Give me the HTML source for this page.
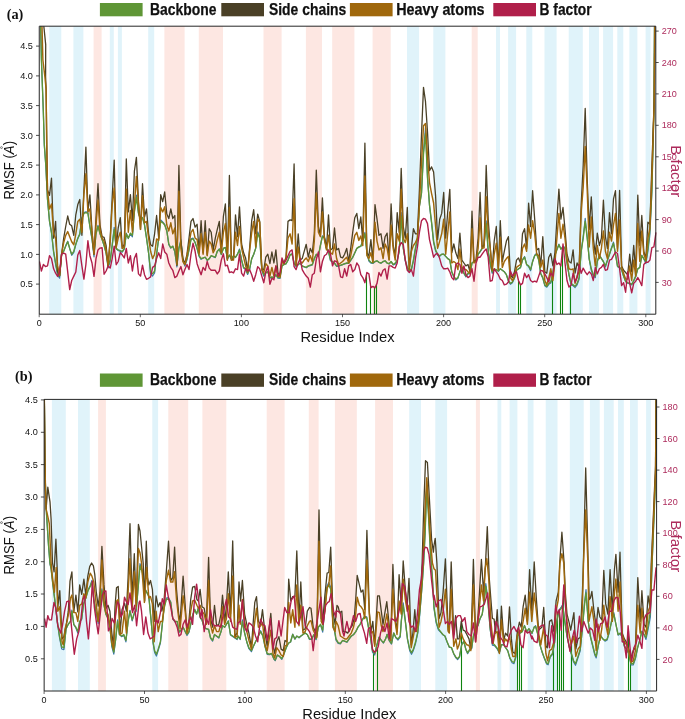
<!DOCTYPE html>
<html><head><meta charset="utf-8"><title>RMSF</title>
<style>html,body{margin:0;padding:0;background:#fff}svg{display:block;will-change:transform;font-family:"Liberation Sans",sans-serif}</style></head>
<body><svg width="685" height="719" viewBox="0 0 685 719">
<rect width="685" height="719" fill="#fff"/>
<rect x="49.2" y="26.2" width="12.1" height="288.0" fill="#e0f3fa"/>
<rect x="73.4" y="26.2" width="10.0" height="288.0" fill="#e0f3fa"/>
<rect x="93.6" y="26.2" width="8.0" height="288.0" fill="#fde7e2"/>
<rect x="109.8" y="26.2" width="4.0" height="288.0" fill="#e0f3fa"/>
<rect x="117.9" y="26.2" width="4.0" height="288.0" fill="#e0f3fa"/>
<rect x="148.2" y="26.2" width="6.0" height="288.0" fill="#e0f3fa"/>
<rect x="164.4" y="26.2" width="20.2" height="288.0" fill="#fde7e2"/>
<rect x="198.8" y="26.2" width="24.2" height="288.0" fill="#fde7e2"/>
<rect x="263.5" y="26.2" width="18.1" height="288.0" fill="#fde7e2"/>
<rect x="305.9" y="26.2" width="16.1" height="288.0" fill="#fde7e2"/>
<rect x="332.2" y="26.2" width="22.2" height="288.0" fill="#fde7e2"/>
<rect x="372.6" y="26.2" width="18.1" height="288.0" fill="#fde7e2"/>
<rect x="407.0" y="26.2" width="12.1" height="288.0" fill="#e0f3fa"/>
<rect x="433.3" y="26.2" width="12.1" height="288.0" fill="#e0f3fa"/>
<rect x="471.7" y="26.2" width="6.0" height="288.0" fill="#fde7e2"/>
<rect x="496.0" y="26.2" width="4.0" height="288.0" fill="#e0f3fa"/>
<rect x="508.1" y="26.2" width="8.0" height="288.0" fill="#e0f3fa"/>
<rect x="526.3" y="26.2" width="6.0" height="288.0" fill="#e0f3fa"/>
<rect x="544.5" y="26.2" width="12.1" height="288.0" fill="#e0f3fa"/>
<rect x="568.7" y="26.2" width="14.1" height="288.0" fill="#e0f3fa"/>
<rect x="589.0" y="26.2" width="10.0" height="288.0" fill="#e0f3fa"/>
<rect x="603.1" y="26.2" width="10.0" height="288.0" fill="#e0f3fa"/>
<rect x="617.3" y="26.2" width="6.0" height="288.0" fill="#e0f3fa"/>
<rect x="629.4" y="26.2" width="8.0" height="288.0" fill="#e0f3fa"/>
<rect x="645.6" y="26.2" width="5.0" height="288.0" fill="#e0f3fa"/>
<clipPath id="ca"><rect x="39.25" y="26.2" width="617.5" height="288.0"/></clipPath>
<g clip-path="url(#ca)" fill="none" stroke-linejoin="round">
<line x1="366.5" y1="274.4" x2="366.5" y2="314.2" stroke="#0f830f" stroke-width="1.1"/>
<line x1="370.5" y1="284.9" x2="370.5" y2="314.2" stroke="#0f830f" stroke-width="1.1"/>
<line x1="374.5" y1="287.5" x2="374.5" y2="314.2" stroke="#0f830f" stroke-width="1.1"/>
<line x1="376.5" y1="284.5" x2="376.5" y2="314.2" stroke="#0f830f" stroke-width="1.1"/>
<line x1="518.5" y1="280.5" x2="518.5" y2="314.2" stroke="#0f830f" stroke-width="1.1"/>
<line x1="520.5" y1="284.9" x2="520.5" y2="314.2" stroke="#0f830f" stroke-width="1.1"/>
<line x1="552.5" y1="275.6" x2="552.5" y2="314.2" stroke="#0f830f" stroke-width="1.1"/>
<line x1="560.5" y1="265.3" x2="560.5" y2="314.2" stroke="#0f830f" stroke-width="1.1"/>
<line x1="562.5" y1="249.1" x2="562.5" y2="314.2" stroke="#0f830f" stroke-width="1.1"/>
<line x1="570.5" y1="285.5" x2="570.5" y2="314.2" stroke="#0f830f" stroke-width="1.1"/>
<path d="M40.0,-32.3 L40.6,22.1 L41.4,58.0 L43.3,111.6 L44.3,145.5 L45.8,165.6 L47.5,200.0 L49.5,221.9 L51.5,232.9 L53.6,252.2 L55.6,264.3 L57.6,275.2 L59.6,278.2 L61.6,254.0 L63.7,251.0 L65.7,245.6 L67.7,241.2 L69.7,248.6 L71.7,255.3 L73.8,252.3 L75.8,244.5 L77.8,238.6 L79.8,234.4 L81.9,218.0 L83.9,212.6 L85.9,211.8 L87.9,212.3 L89.9,226.6 L92.0,239.4 L94.0,256.8 L96.0,233.7 L98.0,225.3 L100.0,233.2 L102.1,239.5 L104.1,245.6 L106.1,253.4 L108.1,268.0 L110.2,261.4 L112.2,245.1 L114.2,227.4 L116.2,248.7 L118.2,250.5 L120.3,251.4 L122.3,252.1 L124.3,249.1 L126.3,233.1 L128.3,238.6 L130.4,233.8 L132.4,236.8 L134.4,211.1 L136.4,195.2 L138.5,213.1 L140.5,219.6 L142.5,217.3 L144.5,224.3 L146.5,237.9 L148.6,253.3 L150.6,273.8 L152.6,276.0 L154.6,273.0 L156.6,254.8 L158.7,237.8 L160.7,219.8 L162.7,221.8 L164.7,224.4 L166.8,230.7 L168.8,244.8 L170.8,248.2 L172.8,246.2 L174.8,251.8 L176.9,266.9 L178.9,248.0 L180.9,239.7 L182.9,260.8 L184.9,266.1 L187.0,259.7 L189.0,250.0 L191.0,238.8 L193.0,238.1 L195.1,242.2 L197.1,248.5 L199.1,256.4 L201.1,259.3 L203.1,258.2 L205.2,257.3 L207.2,260.5 L209.2,258.9 L211.2,255.8 L213.2,256.7 L215.3,257.6 L217.3,251.3 L219.3,249.0 L221.3,254.6 L223.4,248.2 L225.4,247.3 L227.4,259.3 L229.4,255.2 L231.4,259.2 L233.5,255.9 L235.5,257.5 L237.5,254.1 L239.5,249.0 L241.6,260.1 L243.6,268.0 L245.6,269.6 L247.6,274.4 L249.6,269.7 L251.7,258.9 L253.7,254.5 L255.7,248.1 L257.7,231.8 L259.7,236.4 L261.8,270.2 L263.8,276.2 L265.8,273.1 L267.8,271.7 L269.9,278.1 L271.9,277.2 L273.9,277.9 L275.9,274.8 L277.9,278.2 L280.0,278.4 L282.0,265.8 L284.0,264.4 L286.0,264.0 L288.0,260.2 L290.1,254.5 L292.1,253.7 L294.1,263.4 L296.1,266.6 L298.2,264.8 L300.2,263.0 L302.2,266.1 L304.2,267.0 L306.2,267.8 L308.3,266.2 L310.3,265.6 L312.3,265.0 L314.3,258.8 L316.3,254.4 L318.4,256.5 L320.4,245.4 L322.4,235.8 L324.4,237.3 L326.5,248.5 L328.5,251.5 L330.5,260.8 L332.5,262.0 L334.5,263.3 L336.6,266.4 L338.6,266.3 L340.6,265.5 L342.6,264.7 L344.6,263.9 L346.7,263.3 L348.7,263.5 L350.7,260.5 L352.7,257.5 L354.8,252.9 L356.8,248.4 L358.8,247.2 L360.8,246.4 L362.8,240.6 L364.9,232.3 L366.9,253.1 L368.9,261.0 L370.9,263.1 L372.9,263.5 L375.0,261.7 L377.0,260.9 L379.0,262.5 L381.0,263.3 L383.1,261.7 L385.1,260.8 L387.1,263.2 L389.1,264.0 L391.1,261.6 L393.2,265.0 L395.2,264.1 L397.2,261.1 L399.2,251.4 L401.2,212.5 L403.3,248.0 L405.3,260.9 L407.3,268.8 L409.3,271.6 L411.4,270.1 L413.4,261.2 L415.4,249.4 L417.4,239.9 L419.4,206.4 L421.5,193.1 L423.5,150.9 L425.5,127.9 L427.5,177.0 L429.5,205.6 L431.6,223.4 L433.6,242.6 L435.6,251.1 L437.6,255.2 L439.7,256.3 L441.7,254.4 L443.7,254.2 L445.7,256.4 L447.7,258.5 L449.8,259.7 L451.8,272.3 L453.8,276.9 L455.8,280.0 L457.9,278.2 L459.9,271.7 L461.9,266.8 L463.9,273.4 L465.9,276.9 L468.0,273.8 L470.0,273.9 L472.0,262.9 L474.0,261.6 L476.0,261.2 L478.1,254.4 L480.1,251.8 L482.1,248.7 L484.1,243.8 L486.2,220.8 L488.2,251.3 L490.2,264.0 L492.2,273.3 L494.2,269.3 L496.3,269.8 L498.3,271.3 L500.3,268.8 L502.3,270.3 L504.3,271.7 L506.4,274.7 L508.4,281.1 L510.4,284.3 L512.4,282.7 L514.5,278.0 L516.5,270.2 L518.5,269.0 L520.5,267.7 L522.5,259.7 L524.6,256.5 L526.6,264.7 L528.6,266.5 L530.6,270.7 L532.6,261.7 L534.7,255.1 L536.7,253.3 L538.7,259.5 L540.7,273.7 L542.8,278.2 L544.8,285.8 L546.8,287.2 L548.8,284.3 L550.8,283.1 L552.9,274.0 L554.9,255.1 L556.9,249.2 L558.9,244.1 L560.9,249.1 L563.0,246.4 L565.0,247.5 L567.0,263.0 L569.0,275.4 L571.1,284.6 L573.1,285.7 L575.1,287.5 L577.1,284.9 L579.1,279.4 L581.2,250.9 L583.2,236.8 L585.2,218.4 L587.2,237.1 L589.2,259.4 L591.3,270.3 L593.3,276.3 L595.3,277.6 L597.3,261.3 L599.4,254.9 L601.4,258.4 L603.4,261.9 L605.4,267.0 L607.4,260.7 L609.5,254.3 L611.5,247.8 L613.5,242.1 L615.5,254.1 L617.5,266.7 L619.6,267.8 L621.6,269.6 L623.6,276.4 L625.6,281.8 L627.7,283.2 L629.7,283.9 L631.7,284.9 L633.7,281.0 L635.7,276.6 L637.8,268.9 L639.8,267.6 L641.8,255.2 L643.8,259.1 L645.9,263.6 L647.9,251.5 L649.9,234.3 L651.9,191.8 L654.0,102.7 L654.6,1.9" stroke="#3b78a8" stroke-width="1.2"/>
<path d="M40.0,-25.0 L40.6,26.0 L41.4,60.0 L43.3,110.0 L44.3,144.0 L45.8,165.0 L47.5,198.8 L49.5,220.7 L51.5,232.3 L53.6,251.3 L55.6,263.0 L57.6,273.2 L59.6,276.1 L61.6,254.2 L63.7,251.3 L65.7,246.2 L67.7,241.8 L69.7,248.4 L71.7,254.2 L73.8,251.3 L75.8,244.0 L77.8,238.2 L79.8,233.8 L81.9,218.5 L83.9,213.4 L85.9,212.6 L87.9,213.4 L89.9,226.5 L92.0,238.2 L94.0,254.2 L96.0,233.8 L98.0,226.5 L100.0,233.8 L102.1,239.6 L104.1,245.5 L106.1,252.8 L108.1,265.9 L110.2,260.1 L112.2,245.5 L114.2,229.4 L116.2,248.4 L118.2,249.9 L120.3,250.6 L122.3,251.3 L124.3,248.4 L126.3,233.8 L128.3,238.2 L130.4,233.1 L132.4,235.3 L134.4,211.9 L136.4,197.3 L138.5,213.4 L140.5,219.2 L142.5,217.7 L144.5,225.0 L146.5,238.2 L148.6,252.8 L150.6,271.8 L152.6,273.9 L154.6,271.0 L156.6,254.2 L158.7,238.2 L160.7,221.4 L162.7,222.8 L164.7,225.0 L166.8,230.9 L168.8,244.0 L170.8,247.7 L172.8,246.2 L174.8,251.3 L176.9,265.2 L178.9,248.4 L180.9,241.1 L182.9,260.1 L184.9,264.5 L187.0,258.6 L189.0,249.9 L191.0,239.6 L193.0,238.9 L195.1,242.6 L197.1,248.4 L199.1,255.7 L201.1,258.6 L203.1,257.9 L205.2,257.2 L207.2,260.1 L209.2,258.6 L211.2,255.7 L213.2,256.4 L215.3,257.2 L217.3,251.3 L219.3,249.1 L221.3,254.2 L223.4,248.4 L225.4,247.7 L227.4,258.6 L229.4,255.0 L231.4,258.6 L233.5,255.7 L235.5,257.2 L237.5,254.2 L239.5,249.9 L241.6,260.1 L243.6,267.4 L245.6,268.8 L247.6,273.2 L249.6,268.8 L251.7,258.6 L253.7,254.2 L255.7,248.4 L257.7,233.8 L259.7,238.2 L261.8,268.8 L263.8,274.7 L265.8,272.5 L267.8,271.8 L269.9,277.6 L271.9,276.9 L273.9,277.6 L275.9,274.7 L277.9,277.6 L280.0,277.6 L282.0,265.9 L284.0,264.5 L286.0,263.7 L288.0,260.1 L290.1,255.0 L292.1,254.2 L294.1,263.0 L296.1,265.9 L298.2,264.5 L300.2,263.0 L302.2,265.9 L304.2,266.6 L306.2,267.4 L308.3,265.9 L310.3,265.2 L312.3,264.5 L314.3,258.6 L316.3,254.2 L318.4,255.7 L320.4,245.5 L322.4,236.7 L324.4,238.2 L326.5,248.4 L328.5,251.3 L330.5,260.1 L332.5,261.5 L334.5,263.0 L336.6,265.9 L338.6,265.9 L340.6,265.2 L342.6,264.5 L344.6,263.7 L346.7,263.0 L348.7,263.0 L350.7,260.1 L352.7,257.2 L354.8,252.8 L356.8,248.4 L358.8,246.9 L360.8,246.2 L362.8,241.1 L364.9,233.8 L366.9,252.8 L368.9,260.1 L370.9,262.3 L372.9,263.0 L375.0,261.5 L377.0,260.8 L379.0,262.3 L381.0,263.0 L383.1,261.5 L385.1,260.8 L387.1,263.0 L389.1,263.7 L391.1,261.5 L393.2,264.5 L395.2,263.0 L397.2,260.1 L399.2,251.3 L401.2,216.3 L403.3,248.4 L405.3,260.1 L407.3,267.4 L409.3,270.3 L411.4,268.8 L413.4,260.1 L415.4,248.4 L417.4,238.2 L419.4,206.1 L421.5,192.9 L423.5,154.2 L425.5,133.4 L427.5,178.0 L429.5,204.6 L431.6,222.1 L433.6,241.1 L435.6,249.9 L437.6,254.2 L439.7,255.7 L441.7,254.2 L443.7,254.2 L445.7,256.4 L447.7,258.6 L449.8,260.1 L451.8,271.8 L453.8,276.1 L455.8,279.1 L457.9,277.6 L459.9,271.8 L461.9,267.4 L463.9,273.2 L465.9,276.1 L468.0,273.2 L470.0,273.2 L472.0,263.0 L474.0,261.5 L476.0,260.8 L478.1,254.2 L480.1,251.3 L482.1,248.4 L484.1,244.0 L486.2,223.6 L488.2,251.3 L490.2,263.0 L492.2,271.8 L494.2,268.8 L496.3,269.6 L498.3,271.0 L500.3,268.8 L502.3,270.3 L504.3,271.8 L506.4,274.7 L508.4,280.5 L510.4,283.4 L512.4,282.0 L514.5,277.6 L516.5,270.3 L518.5,268.8 L520.5,267.4 L522.5,260.1 L524.6,257.2 L526.6,264.5 L528.6,265.9 L530.6,269.6 L532.6,261.5 L534.7,255.7 L536.7,254.2 L538.7,260.1 L540.7,273.2 L542.8,277.6 L544.8,284.9 L546.8,286.4 L548.8,283.4 L550.8,282.0 L552.9,273.2 L554.9,255.7 L556.9,249.9 L558.9,244.7 L560.9,249.1 L563.0,246.9 L565.0,248.4 L567.0,263.0 L569.0,274.7 L571.1,283.4 L573.1,284.9 L575.1,286.4 L577.1,283.4 L579.1,277.6 L581.2,251.3 L583.2,238.2 L585.2,221.4 L587.2,238.2 L589.2,258.6 L591.3,268.8 L593.3,274.7 L595.3,276.1 L597.3,261.5 L599.4,255.7 L601.4,258.6 L603.4,261.5 L605.4,265.9 L607.4,260.1 L609.5,254.2 L611.5,248.4 L613.5,243.3 L615.5,254.2 L617.5,265.9 L619.6,267.4 L621.6,269.6 L623.6,276.1 L625.6,281.2 L627.7,282.7 L629.7,283.4 L631.7,284.2 L633.7,280.5 L635.7,276.1 L637.8,268.8 L639.8,267.4 L641.8,255.7 L643.8,258.6 L645.9,261.5 L647.9,248.4 L649.9,229.4 L651.9,190.0 L654.0,108.0 L654.6,15.0" stroke="#5f9636" stroke-width="1.35"/>
<path d="M42.5,-25.0 L43.8,26.0 L45.7,44.6 L45.6,77.0 L46.1,89.0 L46.8,144.0 L47.5,190.0 L49.5,195.3 L51.5,178.2 L53.6,238.2 L55.6,221.4 L57.6,271.8 L59.6,275.8 L61.6,254.2 L63.7,238.2 L65.7,226.5 L67.7,216.0 L69.7,224.3 L71.7,225.8 L73.8,235.3 L75.8,214.8 L77.8,204.6 L79.8,199.5 L81.9,235.3 L83.9,190.0 L85.9,147.1 L87.9,211.0 L89.9,194.8 L92.0,230.9 L94.0,254.2 L96.0,217.7 L98.0,183.7 L100.0,225.0 L102.1,236.7 L104.1,237.4 L106.1,245.5 L108.1,265.9 L110.2,238.2 L112.2,197.3 L114.2,160.1 L116.2,246.9 L118.2,228.0 L120.3,217.7 L122.3,248.4 L124.3,244.0 L126.3,158.9 L128.3,211.9 L130.4,194.7 L132.4,220.7 L134.4,171.0 L136.4,157.4 L138.5,201.7 L140.5,229.4 L142.5,183.7 L144.5,217.0 L146.5,209.0 L148.6,233.8 L150.6,244.7 L152.6,246.2 L154.6,233.8 L156.6,215.5 L158.7,238.2 L160.7,194.7 L162.7,201.7 L164.7,192.0 L166.8,214.1 L168.8,218.5 L170.8,209.0 L172.8,218.5 L174.8,215.5 L176.9,265.2 L178.9,165.5 L180.9,241.1 L182.9,258.6 L184.9,263.7 L187.0,254.2 L189.0,238.2 L191.0,221.4 L193.0,218.5 L195.1,227.2 L197.1,224.3 L199.1,251.3 L201.1,220.7 L203.1,252.8 L205.2,220.7 L207.2,255.0 L209.2,228.7 L211.2,232.3 L213.2,249.9 L215.3,238.2 L217.3,229.4 L219.3,221.4 L221.3,251.3 L223.4,216.3 L225.4,203.9 L227.4,260.1 L229.4,175.5 L231.4,260.1 L233.5,258.6 L235.5,214.8 L237.5,236.7 L239.5,206.8 L241.6,244.0 L243.6,252.8 L245.6,257.9 L247.6,271.0 L249.6,248.4 L251.7,220.7 L253.7,209.7 L255.7,233.8 L257.7,214.1 L259.7,221.4 L261.8,268.8 L263.8,269.6 L265.8,257.2 L267.8,254.2 L269.9,263.7 L271.9,252.0 L273.9,263.0 L275.9,249.9 L277.9,272.5 L280.0,276.1 L282.0,260.1 L284.0,263.0 L286.0,257.2 L288.0,221.4 L290.1,219.9 L292.1,220.7 L294.1,164.0 L296.1,264.5 L298.2,233.8 L300.2,260.1 L302.2,258.6 L304.2,251.3 L306.2,244.3 L308.3,257.2 L310.3,248.4 L312.3,252.8 L314.3,233.8 L316.3,170.1 L318.4,226.5 L320.4,235.3 L322.4,197.9 L324.4,236.7 L326.5,248.4 L328.5,214.8 L330.5,249.9 L332.5,248.4 L334.5,228.0 L336.6,249.9 L338.6,248.4 L340.6,257.2 L342.6,257.9 L344.6,254.2 L346.7,248.4 L348.7,261.5 L350.7,248.4 L352.7,232.3 L354.8,217.7 L356.8,213.4 L358.8,228.7 L360.8,217.0 L362.8,241.1 L364.9,143.1 L366.9,252.8 L368.9,255.7 L370.9,239.6 L372.9,261.5 L375.0,204.6 L377.0,219.2 L379.0,235.3 L381.0,233.8 L383.1,248.4 L385.1,236.7 L387.1,233.1 L389.1,259.3 L391.1,203.9 L393.2,245.5 L395.2,255.7 L397.2,212.6 L399.2,232.3 L401.2,168.4 L403.3,226.5 L405.3,238.2 L407.3,207.5 L409.3,268.8 L411.4,248.4 L413.4,228.7 L415.4,233.8 L417.4,233.8 L419.4,190.0 L421.5,134.5 L423.5,87.4 L425.5,101.7 L427.5,132.0 L429.5,170.6 L431.6,166.9 L433.6,172.0 L435.6,196.0 L437.6,239.6 L439.7,219.2 L441.7,213.4 L443.7,192.5 L445.7,238.2 L447.7,211.9 L449.8,189.3 L451.8,252.8 L453.8,244.0 L455.8,252.8 L457.9,258.6 L459.9,233.1 L461.9,260.1 L463.9,263.0 L465.9,265.9 L468.0,264.5 L470.0,271.8 L472.0,211.2 L474.0,261.5 L476.0,260.1 L478.1,238.2 L480.1,192.5 L482.1,246.9 L484.1,245.5 L486.2,165.5 L488.2,219.2 L490.2,246.9 L492.2,269.6 L494.2,241.1 L496.3,226.5 L498.3,268.8 L500.3,220.7 L502.3,261.5 L504.3,251.3 L506.4,241.1 L508.4,236.7 L510.4,274.7 L512.4,277.6 L514.5,271.8 L516.5,260.1 L518.5,257.9 L520.5,263.0 L522.5,233.8 L524.6,228.7 L526.6,248.4 L528.6,203.1 L530.6,226.5 L532.6,190.7 L534.7,219.2 L536.7,249.9 L538.7,248.4 L540.7,265.9 L542.8,236.7 L544.8,271.8 L546.8,273.2 L548.8,257.2 L550.8,253.5 L552.9,265.9 L554.9,252.8 L556.9,219.2 L558.9,189.1 L560.9,219.2 L563.0,207.5 L565.0,229.4 L567.0,254.2 L569.0,261.5 L571.1,263.0 L573.1,249.9 L575.1,273.2 L577.1,263.0 L579.1,267.4 L581.2,204.6 L583.2,165.2 L585.2,108.5 L587.2,179.1 L589.2,229.4 L591.3,196.9 L593.3,238.2 L595.3,254.2 L597.3,233.1 L599.4,245.5 L601.4,238.2 L603.4,200.2 L605.4,236.7 L607.4,248.4 L609.5,212.6 L611.5,233.8 L613.5,198.8 L615.5,190.7 L617.5,248.4 L619.6,190.3 L621.6,265.9 L623.6,270.3 L625.6,272.5 L627.7,274.7 L629.7,254.2 L631.7,271.8 L633.7,245.5 L635.7,271.8 L637.8,195.1 L639.8,245.5 L641.8,215.5 L643.8,251.3 L645.9,258.6 L647.9,222.1 L649.9,224.3 L651.9,165.0 L654.3,97.0 L654.9,15.0" stroke="#4a4026" stroke-width="1.3"/>
<path d="M41.2,-25.0 L42.0,26.0 L42.9,60.0 L44.9,77.0 L46.1,89.0 L46.7,144.0 L47.5,190.0 L49.5,209.0 L51.5,203.9 L53.6,233.8 L55.6,238.2 L57.6,265.9 L59.6,275.4 L61.6,254.2 L63.7,242.6 L65.7,235.3 L67.7,231.6 L69.7,236.7 L71.7,241.8 L73.8,244.7 L75.8,233.8 L77.8,221.4 L79.8,219.2 L81.9,232.3 L83.9,194.4 L85.9,173.8 L87.9,211.9 L89.9,209.0 L92.0,232.3 L94.0,254.2 L96.0,225.0 L98.0,200.2 L100.0,229.4 L102.1,238.2 L104.1,241.1 L106.1,249.9 L108.1,265.9 L110.2,241.1 L112.2,204.6 L114.2,188.1 L116.2,247.7 L118.2,238.2 L120.3,232.3 L122.3,248.4 L124.3,246.9 L126.3,189.1 L128.3,232.3 L130.4,210.4 L132.4,232.3 L134.4,204.6 L136.4,176.4 L138.5,204.6 L140.5,229.4 L142.5,195.8 L144.5,222.8 L146.5,221.4 L148.6,238.2 L150.6,251.3 L152.6,258.6 L154.6,254.2 L156.6,238.9 L158.7,240.4 L160.7,207.5 L162.7,211.9 L164.7,206.8 L166.8,225.0 L168.8,230.9 L170.8,222.8 L172.8,233.8 L174.8,228.0 L176.9,264.5 L178.9,191.3 L180.9,248.4 L182.9,261.5 L184.9,264.5 L187.0,255.7 L189.0,244.0 L191.0,232.3 L193.0,229.4 L195.1,238.2 L197.1,239.6 L199.1,254.2 L201.1,233.8 L203.1,254.2 L205.2,232.3 L207.2,255.7 L209.2,241.1 L211.2,244.0 L213.2,252.8 L215.3,248.4 L217.3,239.6 L219.3,232.3 L221.3,252.8 L223.4,232.3 L225.4,223.6 L227.4,260.1 L229.4,207.5 L231.4,260.1 L233.5,260.1 L235.5,232.3 L237.5,245.5 L239.5,226.5 L241.6,248.4 L243.6,257.2 L245.6,265.9 L247.6,271.8 L249.6,251.3 L251.7,232.3 L253.7,221.4 L255.7,246.9 L257.7,219.2 L259.7,222.1 L261.8,269.6 L263.8,272.5 L265.8,263.7 L267.8,265.9 L269.9,276.1 L271.9,267.4 L273.9,276.1 L275.9,265.9 L277.9,276.1 L280.0,276.9 L282.0,261.5 L284.0,263.7 L286.0,258.6 L288.0,238.2 L290.1,233.8 L292.1,244.0 L294.1,198.8 L296.1,265.2 L298.2,246.9 L300.2,261.5 L302.2,263.0 L304.2,260.1 L306.2,257.9 L308.3,261.5 L310.3,255.7 L312.3,261.5 L314.3,241.1 L316.3,192.9 L318.4,232.3 L320.4,236.7 L322.4,211.9 L324.4,239.6 L326.5,249.9 L328.5,235.3 L330.5,252.8 L332.5,254.2 L334.5,244.0 L336.6,258.6 L338.6,264.5 L340.6,263.0 L342.6,261.5 L344.6,259.3 L346.7,257.2 L348.7,263.0 L350.7,255.7 L352.7,245.5 L354.8,235.3 L356.8,232.3 L358.8,240.4 L360.8,236.0 L362.8,245.5 L364.9,176.0 L366.9,255.7 L368.9,258.6 L370.9,252.8 L372.9,262.3 L375.0,222.1 L377.0,241.1 L379.0,249.9 L381.0,247.7 L383.1,258.6 L385.1,244.0 L387.1,248.4 L389.1,260.1 L391.1,225.0 L393.2,248.4 L395.2,260.1 L397.2,233.8 L399.2,241.1 L401.2,189.3 L403.3,238.2 L405.3,242.6 L407.3,233.8 L409.3,269.6 L411.4,251.3 L413.4,245.5 L415.4,242.6 L417.4,238.2 L419.4,204.6 L421.5,163.0 L423.5,125.8 L425.5,123.6 L427.5,156.0 L429.5,182.6 L431.6,193.6 L433.6,203.0 L435.6,226.5 L437.6,248.4 L439.7,241.1 L441.7,233.8 L443.7,219.2 L445.7,254.2 L447.7,233.8 L449.8,211.9 L451.8,263.0 L453.8,261.5 L455.8,263.0 L457.9,269.6 L459.9,249.1 L461.9,267.4 L463.9,268.8 L465.9,269.6 L468.0,271.8 L470.0,273.2 L472.0,228.7 L474.0,263.0 L476.0,261.5 L478.1,248.4 L480.1,217.7 L482.1,248.4 L484.1,247.7 L486.2,196.6 L488.2,232.3 L490.2,248.4 L492.2,270.3 L494.2,254.2 L496.3,243.3 L498.3,269.6 L500.3,237.4 L502.3,267.4 L504.3,261.5 L506.4,258.6 L508.4,256.4 L510.4,277.6 L512.4,280.5 L514.5,276.1 L516.5,267.4 L518.5,265.9 L520.5,264.5 L522.5,248.4 L524.6,244.0 L526.6,251.3 L528.6,225.0 L530.6,238.2 L532.6,220.7 L534.7,233.8 L536.7,254.2 L538.7,255.7 L540.7,267.4 L542.8,260.1 L544.8,280.5 L546.8,284.9 L548.8,277.6 L550.8,268.8 L552.9,280.5 L554.9,263.0 L556.9,238.2 L558.9,213.4 L560.9,238.2 L563.0,224.3 L565.0,238.2 L567.0,258.6 L569.0,268.8 L571.1,269.6 L573.1,268.8 L575.1,283.4 L577.1,276.1 L579.1,271.8 L581.2,211.9 L583.2,187.1 L585.2,146.5 L587.2,190.0 L589.2,246.9 L591.3,217.0 L593.3,248.4 L595.3,265.9 L597.3,245.5 L599.4,258.6 L601.4,248.4 L603.4,230.9 L605.4,251.3 L607.4,258.6 L609.5,232.3 L611.5,241.1 L613.5,225.0 L615.5,213.4 L617.5,251.3 L619.6,219.9 L621.6,267.4 L623.6,273.2 L625.6,279.1 L627.7,279.1 L629.7,265.9 L631.7,280.5 L633.7,260.1 L635.7,276.1 L637.8,223.6 L639.8,261.5 L641.8,230.9 L643.8,254.2 L645.9,260.1 L647.9,238.2 L649.9,228.0 L651.9,175.0 L654.2,102.0 L654.8,15.0" stroke="#a0680c" stroke-width="1.45"/>
<path d="M39.4,261.5 L41.4,271.0 L43.4,264.5 L45.5,266.6 L47.5,265.9 L49.5,255.7 L51.5,258.6 L53.6,268.8 L55.6,273.2 L57.6,276.4 L59.6,271.8 L61.6,254.2 L63.7,253.1 L65.7,254.2 L67.7,271.8 L69.7,289.6 L71.7,280.5 L73.8,276.1 L75.8,272.0 L77.8,255.0 L79.8,250.6 L81.9,265.9 L83.9,279.1 L85.9,264.5 L87.9,240.8 L89.9,255.7 L92.0,263.0 L94.0,276.4 L96.0,258.6 L98.0,249.9 L100.0,248.1 L102.1,247.7 L104.1,274.2 L106.1,271.0 L108.1,265.9 L110.2,268.1 L112.2,258.6 L114.2,246.2 L116.2,264.7 L118.2,261.5 L120.3,252.5 L122.3,255.0 L124.3,257.9 L126.3,248.4 L128.3,263.0 L130.4,255.7 L132.4,271.0 L134.4,258.2 L136.4,253.5 L138.5,273.9 L140.5,276.1 L142.5,265.2 L144.5,274.7 L146.5,279.3 L148.6,278.3 L150.6,276.9 L152.6,267.4 L154.6,265.9 L156.6,258.6 L158.7,252.8 L160.7,258.6 L162.7,244.0 L164.7,252.0 L166.8,254.2 L168.8,263.0 L170.8,267.4 L172.8,270.3 L174.8,277.6 L176.9,276.1 L178.9,271.0 L180.9,266.6 L182.9,274.7 L184.9,269.6 L187.0,264.5 L189.0,269.6 L191.0,254.2 L193.0,243.3 L195.1,251.3 L197.1,263.7 L199.1,269.6 L201.1,274.7 L203.1,267.4 L205.2,270.3 L207.2,261.5 L209.2,268.1 L211.2,270.3 L213.2,270.3 L215.3,270.3 L217.3,273.9 L219.3,271.0 L221.3,260.1 L223.4,253.8 L225.4,265.9 L227.4,265.2 L229.4,272.5 L231.4,271.8 L233.5,272.9 L235.5,268.8 L237.5,269.6 L239.5,254.2 L241.6,273.2 L243.6,276.1 L245.6,268.8 L247.6,271.0 L249.6,269.6 L251.7,274.7 L253.7,281.2 L255.7,274.7 L257.7,266.6 L259.7,268.8 L261.8,276.1 L263.8,282.7 L265.8,271.8 L267.8,266.6 L269.9,284.2 L271.9,278.3 L273.9,279.8 L275.9,265.9 L277.9,276.1 L280.0,272.5 L282.0,257.9 L284.0,263.0 L286.0,260.1 L288.0,255.7 L290.1,251.3 L292.1,249.9 L294.1,266.6 L296.1,269.6 L298.2,263.0 L300.2,258.6 L302.2,269.6 L304.2,273.2 L306.2,276.1 L308.3,278.3 L310.3,287.1 L312.3,274.7 L314.3,273.2 L316.3,259.3 L318.4,252.0 L320.4,271.8 L322.4,261.5 L324.4,255.7 L326.5,254.2 L328.5,249.9 L330.5,254.2 L332.5,265.9 L334.5,260.8 L336.6,261.5 L338.6,265.9 L340.6,276.9 L342.6,277.6 L344.6,268.8 L346.7,276.1 L348.7,265.9 L350.7,264.5 L352.7,271.8 L354.8,269.6 L356.8,263.0 L358.8,265.9 L360.8,274.7 L362.8,277.6 L364.9,282.7 L366.9,272.5 L368.9,273.9 L370.9,287.8 L372.9,286.4 L375.0,287.8 L377.0,283.4 L379.0,272.5 L381.0,276.1 L383.1,270.3 L385.1,268.8 L387.1,279.1 L389.1,265.9 L391.1,265.9 L393.2,267.4 L395.2,268.1 L397.2,263.0 L399.2,246.9 L401.2,242.6 L403.3,244.7 L405.3,260.1 L407.3,270.3 L409.3,272.5 L411.4,269.6 L413.4,276.1 L415.4,258.6 L417.4,246.9 L419.4,232.3 L421.5,220.7 L423.5,218.5 L425.5,219.2 L427.5,223.6 L429.5,239.6 L431.6,248.4 L433.6,257.2 L435.6,254.2 L437.6,253.5 L439.7,258.6 L441.7,265.9 L443.7,268.8 L445.7,268.8 L447.7,268.1 L449.8,271.8 L451.8,277.6 L453.8,279.8 L455.8,264.5 L457.9,263.0 L459.9,264.5 L461.9,273.2 L463.9,265.9 L465.9,274.7 L468.0,277.6 L470.0,276.1 L472.0,268.8 L474.0,281.2 L476.0,263.0 L478.1,257.2 L480.1,257.2 L482.1,254.2 L484.1,251.3 L486.2,249.1 L488.2,257.2 L490.2,281.2 L492.2,280.5 L494.2,268.8 L496.3,271.8 L498.3,274.7 L500.3,279.1 L502.3,280.5 L504.3,284.9 L506.4,284.2 L508.4,282.0 L510.4,271.0 L512.4,276.1 L514.5,273.2 L516.5,271.8 L518.5,280.5 L520.5,284.9 L522.5,283.4 L524.6,273.2 L526.6,277.6 L528.6,274.7 L530.6,280.5 L532.6,282.0 L534.7,281.2 L536.7,282.0 L538.7,276.1 L540.7,270.3 L542.8,271.0 L544.8,273.9 L546.8,277.6 L548.8,282.0 L550.8,273.2 L552.9,276.1 L554.9,258.6 L556.9,264.5 L558.9,263.0 L560.9,265.9 L563.0,244.0 L565.0,263.0 L567.0,280.5 L569.0,287.1 L571.1,284.9 L573.1,273.2 L575.1,282.0 L577.1,277.6 L579.1,264.5 L581.2,273.2 L583.2,268.1 L585.2,271.8 L587.2,274.7 L589.2,271.8 L591.3,273.9 L593.3,280.5 L595.3,267.4 L597.3,273.9 L599.4,268.8 L601.4,267.4 L603.4,264.5 L605.4,270.3 L607.4,269.6 L609.5,260.1 L611.5,259.3 L613.5,255.7 L615.5,252.0 L617.5,253.5 L619.6,268.8 L621.6,285.6 L623.6,282.7 L625.6,292.2 L627.7,271.8 L629.7,283.4 L631.7,292.9 L633.7,283.4 L635.7,281.2 L637.8,277.6 L639.8,281.2 L641.8,285.6 L643.8,264.5 L645.9,262.3 L647.9,262.3 L649.9,260.1 L651.9,247.7 L653.9,246.9 L656.0,232.3" stroke="#b01f4a" stroke-width="1.4"/>
</g>
<path d="M39.25,26.2 V314.2 H655.8 V26.2 Z" fill="none" stroke="#262626" stroke-width="1.0"/>
<line x1="36.0" y1="284.1" x2="39.25" y2="284.1" stroke="#222" stroke-width="0.8"/>
<text x="32.9" y="287.2" font-size="8.6" text-anchor="end" fill="#111" textLength="12.7" lengthAdjust="spacingAndGlyphs">0.5</text>
<line x1="36.0" y1="254.4" x2="39.25" y2="254.4" stroke="#222" stroke-width="0.8"/>
<text x="32.9" y="257.5" font-size="8.6" text-anchor="end" fill="#111" textLength="12.7" lengthAdjust="spacingAndGlyphs">1.0</text>
<line x1="36.0" y1="224.6" x2="39.25" y2="224.6" stroke="#222" stroke-width="0.8"/>
<text x="32.9" y="227.7" font-size="8.6" text-anchor="end" fill="#111" textLength="12.7" lengthAdjust="spacingAndGlyphs">1.5</text>
<line x1="36.0" y1="194.9" x2="39.25" y2="194.9" stroke="#222" stroke-width="0.8"/>
<text x="32.9" y="198.0" font-size="8.6" text-anchor="end" fill="#111" textLength="12.7" lengthAdjust="spacingAndGlyphs">2.0</text>
<line x1="36.0" y1="165.1" x2="39.25" y2="165.1" stroke="#222" stroke-width="0.8"/>
<text x="32.9" y="168.2" font-size="8.6" text-anchor="end" fill="#111" textLength="12.7" lengthAdjust="spacingAndGlyphs">2.5</text>
<line x1="36.0" y1="135.4" x2="39.25" y2="135.4" stroke="#222" stroke-width="0.8"/>
<text x="32.9" y="138.5" font-size="8.6" text-anchor="end" fill="#111" textLength="12.7" lengthAdjust="spacingAndGlyphs">3.0</text>
<line x1="36.0" y1="105.6" x2="39.25" y2="105.6" stroke="#222" stroke-width="0.8"/>
<text x="32.9" y="108.7" font-size="8.6" text-anchor="end" fill="#111" textLength="12.7" lengthAdjust="spacingAndGlyphs">3.5</text>
<line x1="36.0" y1="75.9" x2="39.25" y2="75.9" stroke="#222" stroke-width="0.8"/>
<text x="32.9" y="79.0" font-size="8.6" text-anchor="end" fill="#111" textLength="12.7" lengthAdjust="spacingAndGlyphs">4.0</text>
<line x1="36.0" y1="46.1" x2="39.25" y2="46.1" stroke="#222" stroke-width="0.8"/>
<text x="32.9" y="49.2" font-size="8.6" text-anchor="end" fill="#111" textLength="12.7" lengthAdjust="spacingAndGlyphs">4.5</text>
<line x1="655.8" y1="282.4" x2="658.6999999999999" y2="282.4" stroke="#222" stroke-width="0.8"/>
<text x="661.8" y="285.5" font-size="8.6" fill="#ad2b5c" textLength="10.1" lengthAdjust="spacingAndGlyphs">30</text>
<line x1="655.8" y1="251.0" x2="658.6999999999999" y2="251.0" stroke="#222" stroke-width="0.8"/>
<text x="661.8" y="254.1" font-size="8.6" fill="#ad2b5c" textLength="10.1" lengthAdjust="spacingAndGlyphs">60</text>
<line x1="655.8" y1="219.6" x2="658.6999999999999" y2="219.6" stroke="#222" stroke-width="0.8"/>
<text x="661.8" y="222.7" font-size="8.6" fill="#ad2b5c" textLength="10.1" lengthAdjust="spacingAndGlyphs">90</text>
<line x1="655.8" y1="188.2" x2="658.6999999999999" y2="188.2" stroke="#222" stroke-width="0.8"/>
<text x="661.8" y="191.3" font-size="8.6" fill="#ad2b5c" textLength="15.1" lengthAdjust="spacingAndGlyphs">120</text>
<line x1="655.8" y1="156.8" x2="658.6999999999999" y2="156.8" stroke="#222" stroke-width="0.8"/>
<text x="661.8" y="159.9" font-size="8.6" fill="#ad2b5c" textLength="15.1" lengthAdjust="spacingAndGlyphs">150</text>
<line x1="655.8" y1="125.3" x2="658.6999999999999" y2="125.3" stroke="#222" stroke-width="0.8"/>
<text x="661.8" y="128.4" font-size="8.6" fill="#ad2b5c" textLength="15.1" lengthAdjust="spacingAndGlyphs">180</text>
<line x1="655.8" y1="93.9" x2="658.6999999999999" y2="93.9" stroke="#222" stroke-width="0.8"/>
<text x="661.8" y="97.0" font-size="8.6" fill="#ad2b5c" textLength="15.1" lengthAdjust="spacingAndGlyphs">210</text>
<line x1="655.8" y1="62.5" x2="658.6999999999999" y2="62.5" stroke="#222" stroke-width="0.8"/>
<text x="661.8" y="65.6" font-size="8.6" fill="#ad2b5c" textLength="15.1" lengthAdjust="spacingAndGlyphs">240</text>
<line x1="655.8" y1="31.1" x2="658.6999999999999" y2="31.1" stroke="#222" stroke-width="0.8"/>
<text x="661.8" y="34.2" font-size="8.6" fill="#ad2b5c" textLength="15.1" lengthAdjust="spacingAndGlyphs">270</text>
<line x1="39.2" y1="314.2" x2="39.2" y2="317.2" stroke="#222" stroke-width="0.7"/>
<text x="39.2" y="326.4" font-size="8.6" text-anchor="middle" fill="#111" textLength="5.0" lengthAdjust="spacingAndGlyphs">0</text>
<line x1="140.3" y1="314.2" x2="140.3" y2="317.2" stroke="#222" stroke-width="0.7"/>
<text x="140.3" y="326.4" font-size="8.6" text-anchor="middle" fill="#111" textLength="10.1" lengthAdjust="spacingAndGlyphs">50</text>
<line x1="241.4" y1="314.2" x2="241.4" y2="317.2" stroke="#222" stroke-width="0.7"/>
<text x="241.4" y="326.4" font-size="8.6" text-anchor="middle" fill="#111" textLength="15.1" lengthAdjust="spacingAndGlyphs">100</text>
<line x1="342.5" y1="314.2" x2="342.5" y2="317.2" stroke="#222" stroke-width="0.7"/>
<text x="342.5" y="326.4" font-size="8.6" text-anchor="middle" fill="#111" textLength="15.1" lengthAdjust="spacingAndGlyphs">150</text>
<line x1="443.6" y1="314.2" x2="443.6" y2="317.2" stroke="#222" stroke-width="0.7"/>
<text x="443.6" y="326.4" font-size="8.6" text-anchor="middle" fill="#111" textLength="15.1" lengthAdjust="spacingAndGlyphs">200</text>
<line x1="544.7" y1="314.2" x2="544.7" y2="317.2" stroke="#222" stroke-width="0.7"/>
<text x="544.7" y="326.4" font-size="8.6" text-anchor="middle" fill="#111" textLength="15.1" lengthAdjust="spacingAndGlyphs">250</text>
<line x1="645.8" y1="314.2" x2="645.8" y2="317.2" stroke="#222" stroke-width="0.7"/>
<text x="645.8" y="326.4" font-size="8.6" text-anchor="middle" fill="#111" textLength="15.1" lengthAdjust="spacingAndGlyphs">300</text>
<text x="347.5" y="341.8" font-size="15.3" text-anchor="middle" fill="#111" textLength="94" lengthAdjust="spacingAndGlyphs">Residue Index</text>
<text transform="translate(13.7,170.2) rotate(-90)" font-size="14.6" text-anchor="middle" fill="#111" textLength="58.5" lengthAdjust="spacingAndGlyphs">RMSF (<tspan font-style="italic">A</tspan>)</text>
<circle transform="translate(13.7,170.2) rotate(-90)" cx="22.6" cy="-12.2" r="0.95" fill="none" stroke="#222" stroke-width="0.55"/>
<text transform="translate(670.5,171.2) rotate(90)" font-size="14.6" text-anchor="middle" fill="#ad2b5c" textLength="52" lengthAdjust="spacingAndGlyphs">B factor</text>
<text x="6.7" y="18.7" font-family="Liberation Serif" font-weight="bold" font-size="14.3" fill="#111">(a)</text>
<rect x="99.9" y="3.0" width="42.7" height="13.3" fill="#5f9636"/>
<text x="150" y="14.9" font-size="15.8" font-weight="bold" fill="#111" stroke="#111" stroke-width="0.25" textLength="66.4" lengthAdjust="spacingAndGlyphs">Backbone</text>
<rect x="221.3" y="3.0" width="42.7" height="13.3" fill="#4a4026"/>
<text x="269" y="14.9" font-size="15.8" font-weight="bold" fill="#111" stroke="#111" stroke-width="0.25" textLength="77.2" lengthAdjust="spacingAndGlyphs">Side chains</text>
<rect x="349.9" y="3.0" width="42.7" height="13.3" fill="#a0680c"/>
<text x="396.2" y="14.9" font-size="15.8" font-weight="bold" fill="#111" stroke="#111" stroke-width="0.25" textLength="88.4" lengthAdjust="spacingAndGlyphs">Heavy atoms</text>
<rect x="493.3" y="3.0" width="42.7" height="13.3" fill="#b01f4a"/>
<text x="539.6" y="14.9" font-size="15.8" font-weight="bold" fill="#111" stroke="#111" stroke-width="0.25" textLength="52" lengthAdjust="spacingAndGlyphs">B factor</text>
<rect x="51.9" y="399.4" width="13.9" height="291.6" fill="#e0f3fa"/>
<rect x="78.0" y="399.4" width="11.8" height="291.6" fill="#e0f3fa"/>
<rect x="98.1" y="399.4" width="7.8" height="291.6" fill="#fde7e2"/>
<rect x="152.3" y="399.4" width="5.8" height="291.6" fill="#e0f3fa"/>
<rect x="168.3" y="399.4" width="19.9" height="291.6" fill="#fde7e2"/>
<rect x="202.4" y="399.4" width="23.9" height="291.6" fill="#fde7e2"/>
<rect x="266.7" y="399.4" width="17.9" height="291.6" fill="#fde7e2"/>
<rect x="308.8" y="399.4" width="9.8" height="291.6" fill="#fde7e2"/>
<rect x="334.9" y="399.4" width="21.9" height="291.6" fill="#fde7e2"/>
<rect x="375.1" y="399.4" width="17.9" height="291.6" fill="#fde7e2"/>
<rect x="409.2" y="399.4" width="11.8" height="291.6" fill="#e0f3fa"/>
<rect x="435.3" y="399.4" width="11.8" height="291.6" fill="#e0f3fa"/>
<rect x="475.9" y="399.4" width="4.0" height="291.6" fill="#fde7e2"/>
<rect x="497.5" y="399.4" width="3.8" height="291.6" fill="#e0f3fa"/>
<rect x="509.6" y="399.4" width="7.8" height="291.6" fill="#e0f3fa"/>
<rect x="527.7" y="399.4" width="5.8" height="291.6" fill="#e0f3fa"/>
<rect x="545.7" y="399.4" width="11.8" height="291.6" fill="#e0f3fa"/>
<rect x="569.8" y="399.4" width="13.9" height="291.6" fill="#e0f3fa"/>
<rect x="589.9" y="399.4" width="9.8" height="291.6" fill="#e0f3fa"/>
<rect x="603.9" y="399.4" width="9.8" height="291.6" fill="#e0f3fa"/>
<rect x="618.0" y="399.4" width="5.8" height="291.6" fill="#e0f3fa"/>
<rect x="630.0" y="399.4" width="7.8" height="291.6" fill="#e0f3fa"/>
<rect x="646.1" y="399.4" width="4.8" height="291.6" fill="#e0f3fa"/>
<clipPath id="cb"><rect x="44.15" y="399.4" width="613.5" height="291.6"/></clipPath>
<g clip-path="url(#cb)" fill="none" stroke-linejoin="round">
<line x1="373.5" y1="650.8" x2="373.5" y2="691.0" stroke="#0f830f" stroke-width="1.1"/>
<line x1="377.5" y1="648.3" x2="377.5" y2="691.0" stroke="#0f830f" stroke-width="1.1"/>
<line x1="461.5" y1="618.8" x2="461.5" y2="691.0" stroke="#0f830f" stroke-width="1.1"/>
<line x1="517.5" y1="629.6" x2="517.5" y2="691.0" stroke="#0f830f" stroke-width="1.1"/>
<line x1="519.5" y1="633.9" x2="519.5" y2="691.0" stroke="#0f830f" stroke-width="1.1"/>
<line x1="521.5" y1="645.6" x2="521.5" y2="691.0" stroke="#0f830f" stroke-width="1.1"/>
<line x1="553.5" y1="640.1" x2="553.5" y2="691.0" stroke="#0f830f" stroke-width="1.1"/>
<line x1="557.5" y1="613.9" x2="557.5" y2="691.0" stroke="#0f830f" stroke-width="1.1"/>
<line x1="559.5" y1="611.9" x2="559.5" y2="691.0" stroke="#0f830f" stroke-width="1.1"/>
<line x1="561.5" y1="624.9" x2="561.5" y2="691.0" stroke="#0f830f" stroke-width="1.1"/>
<line x1="563.5" y1="590.5" x2="563.5" y2="691.0" stroke="#0f830f" stroke-width="1.1"/>
<line x1="571.5" y1="642.6" x2="571.5" y2="691.0" stroke="#0f830f" stroke-width="1.1"/>
<line x1="628.5" y1="630.7" x2="628.5" y2="691.0" stroke="#0f830f" stroke-width="1.1"/>
<line x1="630.5" y1="652.3" x2="630.5" y2="691.0" stroke="#0f830f" stroke-width="1.1"/>
<path d="M44.3,387.3 L44.8,455.4 L45.8,502.6 L46.7,517.7 L48.6,547.1 L50.0,564.1 L51.1,568.7 L52.9,584.7 L55.1,602.5 L57.3,622.2 L59.5,637.5 L61.7,649.0 L63.9,649.6 L66.1,628.7 L68.3,624.0 L70.5,621.0 L71.9,610.0 L73.8,624.7 L75.9,628.0 L77.8,633.1 L79.7,622.0 L81.7,619.3 L83.6,603.7 L85.8,598.0 L88.0,590.2 L90.2,585.5 L91.9,580.4 L93.8,599.7 L96.0,612.6 L98.2,623.7 L100.0,607.0 L101.9,588.8 L104.0,604.8 L105.9,614.2 L108.0,618.3 L109.9,627.3 L111.8,646.5 L113.8,654.2 L115.7,639.4 L117.6,619.8 L119.4,634.5 L121.6,636.6 L123.8,635.4 L125.9,641.9 L128.1,621.2 L130.0,610.3 L132.2,620.8 L134.3,613.8 L136.2,611.4 L138.4,584.2 L140.0,563.6 L142.2,570.3 L144.4,588.0 L146.6,591.9 L148.8,595.5 L150.9,618.5 L153.1,643.4 L154.6,652.4 L156.4,656.0 L158.2,650.5 L160.4,643.1 L162.3,624.4 L164.1,607.4 L166.3,598.2 L168.5,597.7 L170.7,601.8 L172.8,619.2 L175.0,622.0 L177.2,621.5 L179.1,632.4 L180.9,630.6 L183.1,627.2 L185.3,632.0 L187.0,635.5 L188.9,632.5 L190.7,624.7 L192.6,615.3 L194.7,609.1 L196.6,614.1 L198.4,607.6 L200.1,617.1 L202.0,620.1 L204.2,627.8 L206.4,628.9 L208.6,629.4 L210.5,638.1 L212.6,641.2 L214.5,634.7 L216.6,636.3 L218.8,638.1 L221.0,631.9 L222.5,625.6 L224.7,627.3 L226.4,624.0 L228.3,620.7 L230.5,635.1 L232.7,636.6 L234.9,638.0 L237.1,639.6 L238.0,636.4 L240.2,639.5 L242.4,619.9 L244.6,632.7 L246.8,642.2 L248.9,648.7 L251.4,651.7 L253.3,646.8 L255.5,642.1 L257.7,637.2 L260.6,630.7 L262.8,635.4 L265.0,646.6 L267.2,654.4 L269.4,654.7 L271.6,653.6 L273.8,659.1 L275.2,660.7 L277.4,655.0 L279.6,656.7 L281.8,659.4 L284.0,654.0 L286.2,647.8 L288.4,643.3 L290.6,642.0 L292.7,634.1 L294.9,639.2 L296.8,636.1 L299.0,637.8 L300.8,636.2 L303.0,634.6 L305.2,632.9 L307.3,634.6 L309.5,639.4 L311.7,639.5 L313.9,634.8 L316.1,639.7 L318.3,627.3 L320.5,624.8 L322.7,632.1 L324.9,606.9 L327.1,586.0 L328.8,582.6 L330.7,587.3 L332.9,622.4 L335.1,634.5 L336.0,640.1 L338.2,643.3 L340.4,643.8 L342.6,640.5 L344.8,641.4 L346.9,642.3 L349.1,639.2 L351.3,636.2 L353.5,634.8 L355.7,632.0 L357.9,627.4 L360.1,624.5 L362.3,619.7 L364.5,616.4 L366.7,616.9 L368.4,626.9 L370.3,636.3 L372.5,652.2 L374.7,655.0 L376.9,645.1 L379.1,636.9 L381.3,640.4 L383.4,643.1 L385.6,639.0 L387.1,634.2 L389.3,640.8 L391.5,644.1 L393.7,632.8 L395.9,637.8 L398.0,640.0 L400.2,637.1 L401.3,620.8 L403.2,602.8 L405.3,620.4 L407.5,639.7 L409.7,650.7 L411.5,654.3 L413.4,650.4 L415.6,643.2 L417.8,633.2 L419.9,612.4 L422.1,585.7 L423.6,563.4 L425.1,532.1 L426.8,481.0 L428.7,516.1 L430.6,555.7 L432.4,578.5 L434.0,608.7 L436.2,623.1 L438.4,629.9 L440.6,632.1 L442.8,634.7 L444.9,636.0 L447.1,642.0 L449.3,647.3 L451.5,647.7 L453.7,653.9 L455.9,657.9 L457.6,659.6 L459.5,657.2 L461.7,644.2 L463.9,641.1 L465.8,649.4 L467.6,653.7 L469.8,649.9 L471.7,648.6 L473.4,636.1 L475.6,628.6 L477.8,626.1 L480.0,619.0 L482.2,614.7 L484.4,598.5 L485.8,583.6 L487.7,597.8 L490.2,629.7 L492.4,645.1 L494.6,645.8 L496.8,648.3 L499.4,652.9 L501.4,644.7 L503.8,644.4 L505.5,647.5 L507.7,650.6 L509.9,658.5 L512.1,662.7 L514.0,663.7 L515.8,657.5 L517.9,635.3 L520.1,632.6 L522.3,631.5 L524.5,625.4 L526.7,631.9 L528.9,628.8 L531.1,632.1 L532.0,633.6 L534.2,626.9 L535.6,625.7 L537.8,634.2 L540.0,645.1 L542.2,652.6 L544.4,658.6 L546.6,664.0 L548.1,664.8 L550.2,657.2 L552.4,654.7 L554.6,642.6 L556.8,620.8 L559.0,610.0 L561.2,607.1 L562.7,604.6 L564.8,621.1 L567.0,636.5 L569.2,647.0 L571.4,654.3 L573.6,662.0 L575.5,665.3 L578.0,657.8 L580.2,650.7 L582.4,628.6 L584.3,604.7 L586.0,589.5 L588.2,621.1 L590.4,636.8 L592.6,645.9 L594.8,655.0 L596.2,658.0 L598.4,644.9 L600.6,635.3 L602.8,638.9 L605.0,641.1 L607.2,639.9 L609.4,632.0 L611.6,620.7 L613.8,612.7 L615.9,624.1 L618.1,635.2 L620.3,633.2 L622.2,637.4 L624.4,646.5 L626.6,649.3 L628.8,653.8 L631.0,664.9 L633.2,665.0 L635.4,658.8 L637.6,647.8 L639.7,640.1 L641.9,631.0 L644.1,634.9 L646.0,639.5 L648.1,629.1 L650.4,616.9 L652.0,567.0 L655.8,469.0 L656.4,366.1" stroke="#3b78a8" stroke-width="1.2"/>
<path d="M44.3,395.1 L44.8,458.0 L45.8,501.8 L46.7,516.4 L48.6,545.6 L50.0,563.0 L51.1,568.8 L52.9,584.9 L55.1,602.4 L57.3,621.4 L59.5,636.0 L61.7,646.9 L63.9,647.7 L66.1,628.7 L68.3,624.3 L70.5,621.4 L71.9,611.2 L73.8,624.3 L75.9,627.2 L77.8,631.6 L79.7,621.4 L81.7,618.5 L83.6,603.9 L85.8,598.0 L88.0,590.7 L90.2,586.4 L91.9,582.0 L93.8,599.5 L96.0,611.2 L98.2,621.4 L100.0,606.8 L101.9,590.7 L104.0,605.3 L105.9,614.1 L108.0,618.5 L109.9,627.2 L111.8,644.8 L113.8,652.1 L115.7,638.9 L117.6,621.4 L119.4,634.5 L121.6,636.0 L123.8,634.5 L125.9,640.4 L128.1,621.4 L130.0,611.2 L132.2,619.9 L134.3,612.6 L136.2,609.7 L138.4,584.9 L140.0,565.9 L142.2,571.8 L144.4,587.8 L146.6,592.2 L148.8,596.6 L150.9,618.5 L153.1,641.8 L154.6,650.6 L156.4,654.2 L158.2,649.1 L160.4,641.8 L162.3,624.3 L164.1,608.3 L166.3,599.5 L168.5,598.8 L170.7,602.4 L172.8,618.5 L175.0,621.4 L177.2,621.4 L179.1,631.6 L180.9,630.2 L183.1,627.2 L185.3,631.6 L187.0,634.5 L188.9,631.6 L190.7,624.3 L192.6,615.6 L194.7,609.7 L196.6,614.1 L198.4,608.3 L200.1,617.0 L202.0,619.9 L204.2,627.2 L206.4,628.7 L208.6,629.4 L210.5,637.5 L212.6,640.4 L214.5,634.5 L216.6,636.0 L218.8,637.5 L221.0,631.6 L222.5,625.8 L224.7,627.2 L226.4,624.3 L228.3,621.4 L230.5,634.5 L232.7,636.0 L234.9,637.5 L237.1,638.9 L238.0,636.0 L240.2,638.9 L242.4,621.4 L244.6,633.1 L246.8,641.8 L248.9,647.7 L251.4,650.6 L253.3,646.2 L255.5,641.8 L257.7,637.5 L260.6,631.6 L262.8,636.0 L265.0,646.2 L267.2,653.5 L269.4,654.2 L271.6,653.5 L273.8,658.6 L275.2,660.1 L277.4,655.0 L279.6,656.4 L281.8,658.6 L284.0,653.5 L286.2,647.7 L288.4,643.3 L290.6,641.8 L292.7,634.5 L294.9,638.9 L296.8,636.0 L299.0,637.5 L300.8,636.0 L303.0,634.5 L305.2,633.1 L307.3,634.5 L309.5,638.9 L311.7,638.9 L313.9,634.5 L316.1,638.9 L318.3,627.2 L320.5,624.3 L322.7,630.2 L324.9,606.8 L327.1,587.8 L328.8,584.9 L330.7,589.3 L332.9,621.4 L335.1,633.1 L336.0,638.9 L338.2,642.6 L340.4,643.3 L342.6,640.4 L344.8,641.1 L346.9,641.8 L349.1,638.9 L351.3,636.0 L353.5,634.5 L355.7,631.6 L357.9,627.2 L360.1,624.3 L362.3,619.9 L364.5,617.0 L366.7,617.7 L368.4,627.2 L370.3,636.0 L372.5,650.6 L374.7,653.5 L376.9,644.8 L379.1,637.5 L381.3,640.4 L383.4,642.6 L385.6,638.9 L387.1,634.5 L389.3,640.4 L391.5,643.3 L393.7,633.1 L395.9,637.5 L398.0,638.9 L400.2,636.0 L401.3,621.4 L403.2,605.3 L405.3,621.4 L407.5,638.9 L409.7,649.1 L411.5,652.8 L413.4,649.1 L415.6,641.8 L417.8,631.6 L419.9,611.2 L422.1,584.9 L423.6,563.0 L425.1,533.8 L426.8,487.2 L428.7,519.2 L430.6,555.7 L432.4,577.6 L434.0,606.8 L436.2,621.4 L438.4,628.7 L440.6,631.6 L442.8,634.5 L444.9,636.0 L447.1,641.8 L449.3,646.9 L451.5,647.7 L453.7,653.5 L455.9,657.2 L457.6,658.6 L459.5,656.4 L461.7,644.8 L463.9,641.8 L465.8,649.1 L467.6,652.8 L469.8,649.1 L471.7,647.7 L473.4,636.0 L475.6,628.7 L477.8,625.8 L480.0,618.5 L482.2,614.1 L484.4,599.5 L485.8,586.4 L487.7,599.5 L490.2,628.7 L492.4,643.3 L494.6,644.8 L496.8,647.7 L499.4,652.1 L501.4,644.8 L503.8,644.8 L505.5,647.7 L507.7,650.6 L509.9,657.9 L512.1,661.5 L514.0,662.3 L515.8,656.4 L517.9,636.0 L520.1,633.1 L522.3,631.6 L524.5,625.8 L526.7,631.6 L528.9,628.7 L531.1,631.6 L532.0,633.1 L534.2,627.2 L535.6,626.5 L537.8,634.5 L540.0,644.8 L542.2,652.1 L544.4,657.9 L546.6,663.0 L548.1,663.7 L550.2,656.4 L552.4,653.5 L554.6,641.8 L556.8,621.4 L559.0,611.2 L561.2,608.3 L562.7,606.1 L564.8,621.4 L567.0,636.0 L569.2,646.2 L571.4,653.5 L573.6,660.8 L575.5,663.7 L578.0,656.4 L580.2,649.1 L582.4,628.7 L584.3,606.8 L586.0,592.9 L588.2,621.4 L590.4,636.0 L592.6,644.8 L594.8,653.5 L596.2,656.4 L598.4,644.8 L600.6,636.0 L602.8,638.9 L605.0,640.4 L607.2,638.9 L609.4,631.6 L611.6,621.4 L613.8,614.1 L615.9,624.3 L618.1,634.5 L620.3,633.1 L622.2,637.5 L624.4,646.2 L626.6,649.1 L628.8,653.5 L631.0,663.7 L633.2,663.7 L635.4,657.9 L637.6,647.7 L639.7,640.4 L641.9,631.6 L644.1,634.5 L646.0,637.5 L648.1,625.8 L650.4,611.2 L652.0,565.0 L655.8,475.0 L656.4,380.0" stroke="#5f9636" stroke-width="1.35"/>
<path d="M44.3,395.1 L44.9,458.0 L45.6,494.4 L46.1,509.1 L47.8,487.2 L50.0,501.8 L51.1,519.2 L52.5,563.0 L54.1,571.8 L55.9,539.1 L57.2,568.8 L57.8,606.8 L59.8,590.7 L62.1,638.9 L63.9,636.7 L66.1,625.8 L68.3,611.2 L70.0,581.2 L71.9,571.8 L73.8,611.9 L75.9,595.1 L77.8,611.9 L79.7,584.9 L81.7,594.4 L83.9,579.1 L85.8,595.1 L87.8,576.1 L89.7,566.6 L91.6,563.0 L93.4,565.9 L94.8,574.7 L96.3,592.2 L98.2,606.1 L100.0,592.2 L101.9,546.4 L104.0,584.9 L105.9,608.3 L108.0,605.3 L109.9,611.2 L111.8,633.1 L113.5,646.2 L115.0,606.8 L116.5,587.8 L118.2,586.4 L120.1,633.1 L122.0,609.7 L124.5,603.1 L126.4,611.2 L128.1,577.6 L130.0,523.7 L132.1,599.5 L134.3,553.7 L136.2,605.3 L138.4,524.5 L140.0,531.0 L143.2,563.0 L144.7,601.0 L146.3,541.2 L147.6,577.6 L148.8,584.9 L150.5,580.5 L152.4,589.3 L154.2,621.4 L156.1,595.8 L158.2,606.8 L160.1,602.4 L161.9,611.2 L164.1,599.5 L166.3,571.8 L168.5,541.2 L170.7,580.5 L172.8,577.6 L174.6,547.1 L176.5,589.3 L178.7,614.1 L180.1,621.4 L183.1,576.1 L185.3,606.8 L187.0,631.6 L188.9,621.4 L190.7,599.5 L192.6,587.1 L194.7,586.4 L196.9,599.5 L198.4,601.0 L200.1,589.3 L202.0,606.8 L204.2,608.3 L206.4,621.4 L208.6,557.3 L210.5,618.5 L212.6,627.2 L214.5,605.3 L216.6,625.8 L218.8,624.3 L221.0,614.1 L222.5,595.1 L224.7,621.4 L226.4,606.8 L228.3,571.8 L230.5,614.1 L232.7,541.0 L234.9,636.0 L237.1,633.1 L239.0,582.0 L240.6,601.0 L242.4,580.5 L244.6,614.1 L246.8,624.3 L248.9,633.1 L251.4,647.7 L253.3,621.4 L254.8,602.4 L256.5,596.6 L258.4,621.4 L260.6,624.3 L262.5,609.7 L265.0,633.1 L267.2,646.2 L268.7,633.1 L270.8,613.4 L273.0,644.8 L274.8,653.5 L276.7,641.8 L278.9,636.7 L281.1,649.1 L283.3,650.6 L285.0,640.4 L286.9,641.8 L288.7,579.1 L290.8,601.0 L292.7,596.6 L294.9,596.6 L296.8,551.0 L299.0,621.4 L300.8,582.0 L303.0,630.2 L305.2,628.7 L307.3,611.2 L309.5,607.5 L311.0,608.3 L313.2,627.2 L315.4,631.6 L316.8,636.0 L319.0,509.9 L321.2,618.5 L322.7,621.4 L324.9,595.1 L327.1,573.2 L328.8,572.5 L330.7,547.1 L332.9,611.2 L335.1,624.3 L337.0,605.3 L338.2,606.8 L339.6,612.6 L341.8,611.2 L343.3,631.6 L345.5,631.6 L347.7,633.1 L349.9,628.7 L352.1,625.8 L354.2,618.5 L355.7,599.5 L357.2,575.4 L359.4,584.9 L361.1,592.2 L363.0,590.0 L364.8,609.7 L366.9,530.3 L369.3,611.2 L371.0,631.6 L372.8,621.4 L374.7,644.8 L377.6,595.8 L379.4,595.8 L381.3,611.2 L383.0,624.3 L384.9,612.6 L386.8,601.7 L388.8,621.4 L390.7,640.4 L392.9,564.5 L395.1,618.5 L397.0,631.6 L399.1,574.7 L401.3,606.8 L403.2,561.0 L405.3,589.3 L407.2,606.8 L409.0,578.3 L411.2,644.8 L412.9,633.1 L414.8,609.7 L416.3,628.7 L418.5,618.5 L420.7,592.2 L422.1,563.0 L423.7,509.0 L425.5,460.7 L427.4,462.4 L429.7,504.6 L431.6,539.6 L433.4,552.1 L434.0,545.5 L435.2,538.3 L436.9,563.0 L439.1,618.5 L441.0,612.6 L443.1,592.2 L445.4,558.8 L448.2,630.2 L449.3,629.4 L451.2,562.0 L453.7,634.5 L455.6,615.6 L457.4,638.9 L459.1,638.9 L461.3,621.4 L463.2,630.2 L464.9,630.9 L466.8,634.5 L469.0,638.9 L470.8,649.1 L473.4,559.5 L475.6,636.0 L477.8,618.5 L479.5,592.2 L481.4,559.5 L483.6,592.2 L485.4,565.9 L487.3,526.6 L489.2,577.6 L490.9,599.5 L492.4,618.5 L494.1,619.2 L495.6,633.1 L497.2,609.7 L499.4,652.1 L501.4,606.1 L503.8,640.4 L505.5,633.1 L507.7,636.0 L509.5,606.8 L511.4,638.9 L512.8,652.1 L515.0,653.5 L517.2,633.1 L519.4,622.1 L521.2,627.2 L523.1,606.8 L525.2,595.1 L527.4,621.4 L529.6,569.6 L531.8,611.2 L534.2,562.0 L536.4,599.5 L538.6,630.2 L540.0,628.7 L541.9,627.2 L543.7,607.5 L545.9,646.2 L547.3,647.7 L549.5,621.4 L551.7,619.9 L553.9,631.6 L556.1,601.0 L558.3,592.2 L559.7,563.0 L561.9,532.2 L564.1,563.0 L565.3,592.2 L567.0,614.1 L569.2,622.9 L570.7,630.2 L573.9,612.6 L575.8,649.1 L578.0,638.9 L580.2,637.5 L582.4,592.2 L583.4,563.0 L585.7,468.0 L588.2,563.0 L589.2,599.5 L590.4,598.0 L591.9,591.5 L594.0,611.2 L596.2,627.2 L598.0,607.5 L599.9,617.0 L601.8,619.9 L603.8,570.3 L605.7,603.9 L607.9,614.1 L610.1,569.6 L612.3,611.2 L614.5,568.8 L615.9,554.4 L618.1,592.2 L620.0,552.2 L622.2,633.1 L624.4,638.9 L626.6,642.6 L628.8,649.1 L631.0,657.9 L633.2,650.6 L635.4,647.7 L637.8,577.6 L640.2,621.4 L641.9,590.7 L644.1,624.3 L646.0,627.2 L648.1,595.8 L650.0,606.8 L651.2,565.0 L655.5,466.0 L656.2,380.0" stroke="#4a4026" stroke-width="1.3"/>
<path d="M44.3,395.1 L44.9,458.0 L45.5,490.0 L46.1,509.1 L47.3,514.2 L49.3,523.7 L51.1,563.0 L52.5,577.6 L54.4,592.2 L56.2,567.4 L57.8,611.2 L59.8,606.8 L62.0,641.8 L63.2,644.8 L65.1,628.7 L67.1,621.4 L69.0,611.2 L70.5,598.0 L71.9,595.1 L73.8,612.6 L75.9,612.6 L77.8,621.4 L79.7,605.3 L81.7,603.9 L83.9,593.7 L85.8,598.0 L87.8,582.0 L90.2,573.2 L91.9,576.1 L93.8,582.0 L95.7,599.5 L98.2,621.4 L100.0,599.5 L101.9,560.1 L104.0,601.0 L105.9,612.6 L108.0,614.1 L109.9,624.3 L111.8,641.8 L113.5,649.1 L115.0,624.3 L116.5,601.0 L118.2,599.5 L120.1,634.5 L122.0,633.1 L124.5,611.2 L126.4,633.1 L128.1,592.2 L130.0,558.8 L132.1,609.7 L134.3,571.8 L136.2,606.8 L138.4,548.5 L140.0,552.8 L141.5,563.0 L144.4,602.4 L146.6,567.4 L148.8,598.0 L150.5,596.6 L152.4,603.9 L154.2,641.8 L156.1,611.2 L158.2,631.6 L160.4,621.4 L162.3,621.4 L164.1,606.8 L166.3,580.5 L168.5,570.3 L170.7,582.0 L172.8,582.0 L174.6,571.8 L176.5,599.5 L178.7,618.5 L180.1,628.7 L183.1,595.8 L185.3,612.6 L187.0,633.1 L188.9,625.8 L190.7,611.2 L192.6,601.0 L194.7,600.2 L196.9,605.3 L198.4,608.3 L200.1,605.3 L202.0,611.2 L204.2,614.1 L206.4,624.3 L208.6,580.5 L210.5,624.3 L212.6,633.1 L214.5,625.8 L216.6,631.6 L218.8,631.6 L221.0,624.3 L222.5,606.8 L224.7,624.3 L226.4,618.5 L228.3,593.7 L230.5,621.4 L232.7,576.1 L234.9,637.5 L237.1,636.0 L239.0,605.3 L240.2,624.3 L242.4,599.5 L244.6,621.4 L246.8,631.6 L248.9,640.4 L251.4,649.1 L253.3,633.1 L254.8,621.4 L256.5,608.3 L258.4,627.2 L260.6,625.8 L262.5,622.9 L265.0,644.8 L267.2,650.6 L268.7,641.8 L270.8,630.2 L273.0,653.5 L274.8,657.9 L276.7,647.7 L278.9,650.6 L281.1,655.0 L283.3,656.4 L285.0,646.2 L286.9,644.8 L288.7,602.4 L290.8,622.9 L292.7,609.7 L294.9,627.2 L296.8,584.9 L299.0,625.8 L300.8,605.3 L303.0,633.1 L305.2,631.6 L307.3,625.8 L309.5,621.4 L311.0,620.7 L313.2,630.2 L315.4,634.5 L316.8,637.5 L319.0,541.2 L321.2,621.4 L322.7,624.3 L324.9,611.2 L327.1,587.8 L328.8,584.9 L330.7,565.9 L332.9,627.2 L335.1,631.6 L336.0,621.4 L338.2,625.8 L340.4,636.0 L342.6,637.5 L344.8,638.9 L346.9,638.9 L349.1,636.0 L351.3,633.1 L353.5,627.2 L355.3,618.5 L357.2,597.3 L359.4,605.3 L361.1,606.8 L363.0,609.7 L364.8,618.5 L366.9,560.1 L369.3,614.1 L371.0,633.1 L372.8,631.6 L374.7,646.2 L377.6,611.9 L379.4,612.6 L381.3,625.8 L383.0,631.6 L384.9,624.3 L386.8,614.1 L388.8,627.2 L390.7,640.4 L392.9,589.3 L395.1,621.4 L397.0,634.5 L399.1,601.0 L401.3,614.1 L403.2,579.1 L405.3,599.5 L407.2,611.2 L409.0,605.3 L411.2,647.7 L412.9,638.9 L414.8,628.7 L416.3,631.6 L418.5,621.4 L420.7,595.1 L422.9,563.0 L425.1,509.1 L426.8,477.7 L428.7,509.1 L430.9,545.6 L432.4,563.0 L434.0,568.8 L435.5,570.3 L437.2,599.5 L439.1,627.2 L441.0,621.4 L443.1,611.2 L445.4,589.3 L448.2,631.6 L449.3,633.1 L451.2,589.3 L453.7,646.2 L455.9,638.9 L457.4,649.1 L459.1,644.8 L461.3,633.1 L463.2,638.9 L464.9,641.8 L466.8,644.8 L469.0,645.5 L470.8,650.6 L473.4,584.9 L475.6,641.8 L477.8,621.4 L479.5,606.8 L481.4,584.9 L483.6,601.0 L485.1,568.8 L486.8,558.6 L488.7,577.6 L490.9,621.4 L493.1,643.3 L495.0,633.1 L497.2,631.6 L499.4,653.5 L501.4,619.9 L503.8,643.3 L505.5,638.9 L507.7,641.8 L509.5,636.0 L511.4,649.1 L512.8,656.4 L515.0,656.4 L517.2,636.0 L519.4,630.2 L521.2,631.6 L523.1,621.4 L525.2,608.3 L527.4,624.3 L529.6,592.2 L531.8,621.4 L534.2,592.9 L536.4,611.2 L538.6,633.1 L540.8,644.8 L543.7,627.2 L545.9,653.5 L547.6,660.8 L549.5,650.6 L551.7,649.1 L553.9,641.8 L556.1,611.2 L558.3,599.5 L560.0,563.0 L561.9,553.7 L563.8,563.0 L565.3,599.5 L567.0,621.4 L569.2,634.5 L571.1,644.8 L573.9,636.0 L575.8,656.4 L578.0,649.1 L580.2,646.2 L582.4,606.8 L583.5,563.0 L585.7,509.9 L587.9,563.0 L588.9,621.4 L591.9,606.8 L594.0,621.4 L596.2,650.6 L598.0,624.3 L599.9,640.4 L601.8,628.7 L603.8,605.3 L605.7,624.3 L607.9,634.5 L610.1,596.6 L612.3,621.4 L614.5,592.2 L615.9,579.1 L618.1,611.2 L620.0,582.0 L622.2,634.5 L624.4,641.8 L626.6,644.8 L628.8,650.6 L631.0,662.3 L633.2,660.8 L635.4,650.6 L637.8,605.3 L640.2,633.1 L641.9,608.3 L644.1,628.7 L646.0,634.5 L648.1,611.2 L650.0,606.8 L651.6,565.0 L655.6,470.0 L656.3,380.0" stroke="#a0680c" stroke-width="1.45"/>
<path d="M44.6,618.5 L46.1,627.2 L47.8,615.6 L49.3,619.9 L51.5,619.9 L54.0,602.4 L55.9,608.3 L57.8,625.8 L60.7,633.1 L62.4,625.8 L64.6,611.2 L66.8,601.7 L69.0,601.0 L70.8,619.9 L72.7,638.9 L74.3,654.2 L76.7,638.9 L78.8,631.6 L80.7,621.4 L82.9,599.5 L84.6,595.8 L86.5,621.4 L88.4,638.9 L90.5,614.1 L92.4,581.2 L94.3,606.8 L96.3,621.4 L98.2,633.8 L100.4,612.6 L102.3,595.1 L104.0,591.5 L105.9,591.0 L108.4,630.9 L110.6,627.2 L112.1,618.5 L114.3,622.9 L115.7,613.4 L117.6,601.7 L119.4,605.3 L120.8,617.0 L122.7,613.4 L124.5,597.3 L126.4,601.7 L128.1,604.6 L130.0,592.9 L132.5,612.6 L134.7,605.3 L136.6,625.8 L139.1,602.4 L140.0,601.0 L141.5,611.2 L143.6,634.5 L145.8,617.0 L148.0,633.1 L150.2,638.9 L152.4,637.5 L154.2,636.0 L156.1,619.9 L158.2,622.9 L160.4,612.6 L162.3,598.8 L164.1,603.9 L166.3,584.9 L168.5,598.0 L170.7,606.8 L172.8,618.5 L175.0,621.4 L177.2,627.2 L179.1,636.0 L180.9,634.5 L183.1,624.3 L185.3,619.9 L187.0,627.2 L188.9,621.4 L190.7,617.0 L192.6,624.3 L194.7,596.6 L196.6,584.2 L198.4,598.0 L200.6,618.5 L202.0,609.7 L204.2,631.6 L206.4,618.5 L208.6,624.3 L210.5,609.7 L212.6,622.9 L214.5,625.8 L216.6,625.8 L218.8,625.8 L221.0,627.2 L222.5,618.5 L224.7,606.8 L226.4,599.5 L228.6,617.0 L230.5,618.5 L232.7,627.2 L234.9,628.7 L237.1,629.4 L238.0,622.9 L240.2,621.4 L242.4,600.2 L244.6,627.2 L246.8,631.6 L248.9,622.9 L251.1,624.3 L253.3,627.2 L255.5,636.0 L257.7,641.8 L260.6,619.2 L262.8,624.3 L265.0,625.8 L267.2,640.4 L270.4,618.5 L273.0,649.1 L274.8,638.9 L276.7,637.5 L278.9,620.7 L281.1,636.0 L284.7,607.5 L286.9,612.6 L289.1,612.6 L291.3,600.2 L294.2,595.8 L296.4,621.4 L298.6,624.3 L300.8,615.6 L303.0,606.8 L305.2,625.8 L307.3,628.7 L309.5,631.6 L311.7,637.5 L313.2,650.6 L315.4,630.9 L317.6,618.5 L320.9,597.3 L323.1,624.3 L325.6,605.3 L327.8,602.4 L329.2,601.7 L331.1,593.7 L333.6,611.2 L335.8,617.0 L336.0,611.2 L338.2,611.2 L340.4,613.4 L342.6,631.6 L344.0,636.0 L346.9,621.4 L349.1,631.6 L351.3,625.8 L353.5,615.6 L355.7,621.4 L357.9,614.1 L360.1,613.4 L362.3,625.8 L364.5,633.1 L366.7,643.3 L368.4,628.7 L370.3,627.2 L372.5,649.1 L374.2,652.1 L376.6,650.6 L378.3,646.2 L380.5,633.1 L382.7,625.8 L384.9,631.6 L387.1,622.9 L389.3,638.9 L391.5,618.5 L393.7,619.9 L395.9,621.4 L398.0,615.6 L400.2,605.3 L402.4,583.4 L404.6,586.4 L406.8,601.0 L409.0,621.4 L411.2,627.2 L413.4,625.8 L415.6,631.6 L417.8,609.7 L419.5,589.3 L421.4,579.1 L423.6,551.5 L425.3,547.1 L427.2,547.8 L429.0,554.4 L430.2,565.9 L431.6,580.5 L433.8,599.5 L434.0,595.1 L436.2,606.8 L438.4,601.0 L441.0,599.5 L443.1,608.3 L445.4,623.6 L447.4,621.4 L449.3,624.3 L451.5,621.4 L453.7,638.9 L455.9,618.5 L458.1,615.6 L460.3,615.6 L462.5,621.4 L464.9,617.7 L466.8,631.6 L469.0,634.5 L471.2,636.0 L473.4,622.9 L475.6,641.8 L477.8,621.4 L480.0,606.8 L482.2,606.1 L484.4,603.9 L487.7,592.9 L490.2,624.3 L492.4,643.3 L494.6,631.6 L496.0,621.4 L498.2,627.2 L500.4,637.5 L502.6,640.4 L504.8,646.2 L507.0,646.9 L509.2,636.0 L511.4,630.2 L514.0,626.5 L516.5,631.6 L518.7,627.2 L520.9,644.8 L523.1,647.7 L525.2,630.2 L527.4,633.1 L529.6,631.6 L531.8,638.9 L532.0,636.0 L534.2,641.1 L537.1,642.6 L539.3,627.2 L541.1,625.8 L543.4,625.0 L545.4,634.5 L547.3,636.0 L549.5,647.7 L551.7,625.8 L553.9,643.3 L555.6,605.3 L557.5,614.1 L559.3,609.7 L561.2,630.2 L563.8,584.9 L565.9,611.2 L567.8,638.9 L570.0,651.3 L572.1,638.9 L574.3,630.2 L576.5,642.6 L579.4,616.3 L581.6,631.6 L583.8,621.4 L586.0,627.2 L588.2,633.1 L590.4,628.0 L592.6,630.2 L594.8,640.4 L596.2,619.2 L598.4,631.6 L600.6,623.6 L602.8,622.9 L605.0,617.0 L607.2,627.2 L609.4,611.2 L611.6,611.2 L613.8,601.0 L615.9,597.3 L618.1,598.0 L620.3,612.6 L622.2,641.8 L624.1,641.8 L626.3,657.9 L628.1,625.8 L630.3,650.6 L631.7,660.8 L633.9,647.7 L636.1,643.3 L637.8,635.3 L639.7,640.4 L641.9,648.4 L643.8,619.9 L646.0,614.8 L648.1,613.4 L650.0,612.6 L651.9,590.0 L653.9,590.0 L656.1,567.4" stroke="#b01f4a" stroke-width="1.4"/>
</g>
<path d="M44.15,399.4 V691.0 H656.6 V399.4 Z" fill="none" stroke="#262626" stroke-width="1.0"/>
<line x1="40.9" y1="658.8" x2="44.15" y2="658.8" stroke="#222" stroke-width="0.8"/>
<text x="37.8" y="661.9" font-size="8.6" text-anchor="end" fill="#111" textLength="12.7" lengthAdjust="spacingAndGlyphs">0.5</text>
<line x1="40.9" y1="626.4" x2="44.15" y2="626.4" stroke="#222" stroke-width="0.8"/>
<text x="37.8" y="629.5" font-size="8.6" text-anchor="end" fill="#111" textLength="12.7" lengthAdjust="spacingAndGlyphs">1.0</text>
<line x1="40.9" y1="594.0" x2="44.15" y2="594.0" stroke="#222" stroke-width="0.8"/>
<text x="37.8" y="597.1" font-size="8.6" text-anchor="end" fill="#111" textLength="12.7" lengthAdjust="spacingAndGlyphs">1.5</text>
<line x1="40.9" y1="561.7" x2="44.15" y2="561.7" stroke="#222" stroke-width="0.8"/>
<text x="37.8" y="564.8" font-size="8.6" text-anchor="end" fill="#111" textLength="12.7" lengthAdjust="spacingAndGlyphs">2.0</text>
<line x1="40.9" y1="529.4" x2="44.15" y2="529.4" stroke="#222" stroke-width="0.8"/>
<text x="37.8" y="532.5" font-size="8.6" text-anchor="end" fill="#111" textLength="12.7" lengthAdjust="spacingAndGlyphs">2.5</text>
<line x1="40.9" y1="497.0" x2="44.15" y2="497.0" stroke="#222" stroke-width="0.8"/>
<text x="37.8" y="500.1" font-size="8.6" text-anchor="end" fill="#111" textLength="12.7" lengthAdjust="spacingAndGlyphs">3.0</text>
<line x1="40.9" y1="464.6" x2="44.15" y2="464.6" stroke="#222" stroke-width="0.8"/>
<text x="37.8" y="467.8" font-size="8.6" text-anchor="end" fill="#111" textLength="12.7" lengthAdjust="spacingAndGlyphs">3.5</text>
<line x1="40.9" y1="432.3" x2="44.15" y2="432.3" stroke="#222" stroke-width="0.8"/>
<text x="37.8" y="435.4" font-size="8.6" text-anchor="end" fill="#111" textLength="12.7" lengthAdjust="spacingAndGlyphs">4.0</text>
<line x1="40.9" y1="399.9" x2="44.15" y2="399.9" stroke="#222" stroke-width="0.8"/>
<text x="37.8" y="403.1" font-size="8.6" text-anchor="end" fill="#111" textLength="12.7" lengthAdjust="spacingAndGlyphs">4.5</text>
<line x1="656.6" y1="659.4" x2="659.5" y2="659.4" stroke="#222" stroke-width="0.8"/>
<text x="662.6" y="662.5" font-size="8.6" fill="#ad2b5c" textLength="10.1" lengthAdjust="spacingAndGlyphs">20</text>
<line x1="656.6" y1="627.9" x2="659.5" y2="627.9" stroke="#222" stroke-width="0.8"/>
<text x="662.6" y="631.0" font-size="8.6" fill="#ad2b5c" textLength="10.1" lengthAdjust="spacingAndGlyphs">40</text>
<line x1="656.6" y1="596.3" x2="659.5" y2="596.3" stroke="#222" stroke-width="0.8"/>
<text x="662.6" y="599.4" font-size="8.6" fill="#ad2b5c" textLength="10.1" lengthAdjust="spacingAndGlyphs">60</text>
<line x1="656.6" y1="564.8" x2="659.5" y2="564.8" stroke="#222" stroke-width="0.8"/>
<text x="662.6" y="567.9" font-size="8.6" fill="#ad2b5c" textLength="10.1" lengthAdjust="spacingAndGlyphs">80</text>
<line x1="656.6" y1="533.2" x2="659.5" y2="533.2" stroke="#222" stroke-width="0.8"/>
<text x="662.6" y="536.3" font-size="8.6" fill="#ad2b5c" textLength="15.1" lengthAdjust="spacingAndGlyphs">100</text>
<line x1="656.6" y1="501.6" x2="659.5" y2="501.6" stroke="#222" stroke-width="0.8"/>
<text x="662.6" y="504.7" font-size="8.6" fill="#ad2b5c" textLength="15.1" lengthAdjust="spacingAndGlyphs">120</text>
<line x1="656.6" y1="470.1" x2="659.5" y2="470.1" stroke="#222" stroke-width="0.8"/>
<text x="662.6" y="473.2" font-size="8.6" fill="#ad2b5c" textLength="15.1" lengthAdjust="spacingAndGlyphs">140</text>
<line x1="656.6" y1="438.5" x2="659.5" y2="438.5" stroke="#222" stroke-width="0.8"/>
<text x="662.6" y="441.6" font-size="8.6" fill="#ad2b5c" textLength="15.1" lengthAdjust="spacingAndGlyphs">160</text>
<line x1="656.6" y1="407.0" x2="659.5" y2="407.0" stroke="#222" stroke-width="0.8"/>
<text x="662.6" y="410.1" font-size="8.6" fill="#ad2b5c" textLength="15.1" lengthAdjust="spacingAndGlyphs">180</text>
<line x1="44.1" y1="691.0" x2="44.1" y2="694.0" stroke="#222" stroke-width="0.7"/>
<text x="44.1" y="703.2" font-size="8.6" text-anchor="middle" fill="#111" textLength="5.0" lengthAdjust="spacingAndGlyphs">0</text>
<line x1="144.5" y1="691.0" x2="144.5" y2="694.0" stroke="#222" stroke-width="0.7"/>
<text x="144.5" y="703.2" font-size="8.6" text-anchor="middle" fill="#111" textLength="10.1" lengthAdjust="spacingAndGlyphs">50</text>
<line x1="244.9" y1="691.0" x2="244.9" y2="694.0" stroke="#222" stroke-width="0.7"/>
<text x="244.9" y="703.2" font-size="8.6" text-anchor="middle" fill="#111" textLength="15.1" lengthAdjust="spacingAndGlyphs">100</text>
<line x1="345.3" y1="691.0" x2="345.3" y2="694.0" stroke="#222" stroke-width="0.7"/>
<text x="345.3" y="703.2" font-size="8.6" text-anchor="middle" fill="#111" textLength="15.1" lengthAdjust="spacingAndGlyphs">150</text>
<line x1="445.6" y1="691.0" x2="445.6" y2="694.0" stroke="#222" stroke-width="0.7"/>
<text x="445.6" y="703.2" font-size="8.6" text-anchor="middle" fill="#111" textLength="15.1" lengthAdjust="spacingAndGlyphs">200</text>
<line x1="546.0" y1="691.0" x2="546.0" y2="694.0" stroke="#222" stroke-width="0.7"/>
<text x="546.0" y="703.2" font-size="8.6" text-anchor="middle" fill="#111" textLength="15.1" lengthAdjust="spacingAndGlyphs">250</text>
<line x1="646.4" y1="691.0" x2="646.4" y2="694.0" stroke="#222" stroke-width="0.7"/>
<text x="646.4" y="703.2" font-size="8.6" text-anchor="middle" fill="#111" textLength="15.1" lengthAdjust="spacingAndGlyphs">300</text>
<text x="349.3" y="718.6" font-size="15.3" text-anchor="middle" fill="#111" textLength="94" lengthAdjust="spacingAndGlyphs">Residue Index</text>
<text transform="translate(13.7,545.2) rotate(-90)" font-size="14.6" text-anchor="middle" fill="#111" textLength="58.5" lengthAdjust="spacingAndGlyphs">RMSF (<tspan font-style="italic">A</tspan>)</text>
<circle transform="translate(13.7,545.2) rotate(-90)" cx="22.6" cy="-12.2" r="0.95" fill="none" stroke="#222" stroke-width="0.55"/>
<text transform="translate(670.5,546.2) rotate(90)" font-size="14.6" text-anchor="middle" fill="#ad2b5c" textLength="52" lengthAdjust="spacingAndGlyphs">B factor</text>
<text x="15.1" y="381.4" font-family="Liberation Serif" font-weight="bold" font-size="14.3" fill="#111">(b)</text>
<rect x="99.9" y="373.5" width="42.7" height="13.3" fill="#5f9636"/>
<text x="150" y="385.4" font-size="15.8" font-weight="bold" fill="#111" stroke="#111" stroke-width="0.25" textLength="66.4" lengthAdjust="spacingAndGlyphs">Backbone</text>
<rect x="221.3" y="373.5" width="42.7" height="13.3" fill="#4a4026"/>
<text x="269" y="385.4" font-size="15.8" font-weight="bold" fill="#111" stroke="#111" stroke-width="0.25" textLength="77.2" lengthAdjust="spacingAndGlyphs">Side chains</text>
<rect x="349.9" y="373.5" width="42.7" height="13.3" fill="#a0680c"/>
<text x="396.2" y="385.4" font-size="15.8" font-weight="bold" fill="#111" stroke="#111" stroke-width="0.25" textLength="88.4" lengthAdjust="spacingAndGlyphs">Heavy atoms</text>
<rect x="493.3" y="373.5" width="42.7" height="13.3" fill="#b01f4a"/>
<text x="539.6" y="385.4" font-size="15.8" font-weight="bold" fill="#111" stroke="#111" stroke-width="0.25" textLength="52" lengthAdjust="spacingAndGlyphs">B factor</text>
</svg></body></html>
